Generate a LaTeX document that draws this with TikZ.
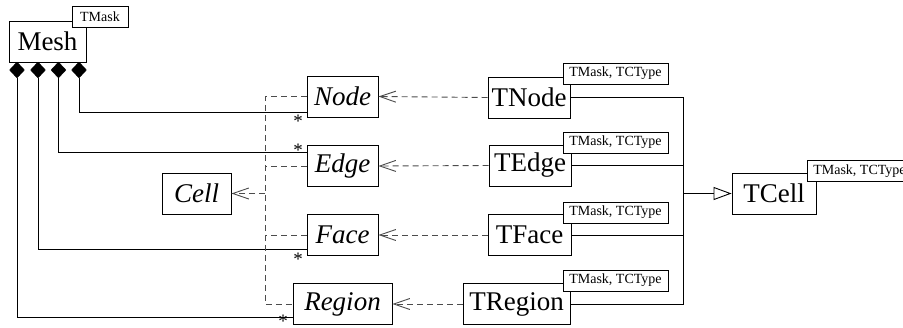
\documentclass[tikz,border=0pt]{standalone}
\usepackage{fontspec}
\setmainfont{Liberation Serif}
\usetikzlibrary{arrows.meta,shapes.geometric,calc}
\begin{document}
\begin{tikzpicture}[x=1pt,y=-1pt,
  box/.style={draw, line width=0.9pt, minimum height=41pt, inner sep=0pt, font=\fontsize{27}{29}\selectfont},
  tag/.style={draw, fill=white, line width=0.8pt, minimum height=21pt, minimum width=105pt, inner sep=0pt, font=\fontsize{14}{16}\selectfont},
  dia/.style={diamond, fill=black, draw=black, line width=0.4pt, minimum width=15pt, minimum height=16pt, inner sep=0pt},
  conn/.style={line width=0.9pt},
  dconn/.style={line width=0.9pt, dash pattern=on 6pt off 4pt, color=black!70},
  star/.style={font=\fontsize{19}{19}\selectfont, inner sep=0pt},
  real/.style={dconn, -{Straight Barb[length=16pt,width=11pt,line width=0.9pt]}},
  gen/.style={conn, -{Triangle[open,length=18pt,width=13pt,line width=0.9pt]}}
]
\useasboundingbox (0,0) rectangle (903,327);

% class boxes
\node[box, minimum width=77pt] (mesh) at (47.5,41.5) {Mesh};
\node[box, minimum width=71pt] (nodeC) at (342.5,96.5) {\itshape Node};
\node[box, minimum width=71pt] (edgeC) at (342.5,166) {\itshape Edge};
\node[box, minimum width=71pt] (faceC) at (342.5,235) {\itshape Face};
\node[box, minimum width=99pt] (regionC) at (342.5,304) {\itshape Region};
\node[box, minimum width=69pt] (cell) at (196.5,193.5) {\itshape Cell};
\node[box, minimum width=82pt] (tnode) at (529,97.5) {TNode};
\node[box, minimum width=82pt] (tedge) at (530,165.5) {TEdge};
\node[box, minimum width=83pt] (tface) at (529.5,235) {TFace};
\node[box, minimum width=107pt] (tregion) at (516.5,304) {TRegion};
\node[box, minimum width=84pt] (tcell) at (774,193.5) {TCell};

% diamonds
\node[dia] (d1) at (17,70) {};
\node[dia] (d2) at (38,70) {};
\node[dia] (d3) at (58.5,70) {};
\node[dia] (d4) at (79,70) {};

% compositions
\draw[conn] (d4.south) |- ([yshift=5pt]nodeC.south west);
\draw[conn] (d3.south) |- ([yshift=-7pt]edgeC.north west);
\draw[conn] (d2.south) |- ([yshift=7pt]faceC.south west);
\draw[conn] (d1.south) |- ([yshift=8pt]regionC.south west);
\node[star] (s1) at (298,121) {*};
\node[star] (s2) at (298,150) {*};
\node[star] (s3) at (298,259) {*};
\node[star] (s4) at (283,321) {*};

% generalisation to Cell (dashed)
\coordinate (jc) at (265,193.5);
\draw[dconn] (nodeC.west) -- (nodeC.west -| jc) -- (regionC.west -| jc) -- (regionC.west);
\draw[dconn] (edgeC.west) -- (edgeC.west -| jc);
\draw[dconn] (faceC.west) -- (faceC.west -| jc);
\draw[real] (jc) -- (cell.east);

% realisations
\draw[real] (tnode.west) -- (nodeC.east);
\draw[real] (tedge.west) -- (edgeC.east);
\draw[real] (tface.west) -- (faceC.east);
\draw[real] (tregion.west) -- (regionC.east);

% generalisation to TCell
\coordinate (jt) at (683,193.5);
\draw[conn] (tnode.east) -- (tnode.east -| jt) -- (tregion.east -| jt) -- (tregion.east);
\draw[conn] (tedge.east) -- (tedge.east -| jt);
\draw[conn] (tface.east) -- (tface.east -| jt);
\draw[gen] (jt) -- (tcell.west);

% template tags
\node[tag, minimum width=56pt] (tgmesh) at (100,17) {TMask};
\node[tag] (tgnode) at (615.5,73.5) {TMask, TCType};
\node[tag] (tgedge) at (615.5,142.5) {TMask, TCType};
\node[tag] (tgface) at (615.5,212.5) {TMask, TCType};
\node[tag] (tgregion) at (615.5,280.5) {TMask, TCType};
\node[tag] (tgcell) at (859.5,171) {TMask, TCType};
\end{tikzpicture}
\end{document}
